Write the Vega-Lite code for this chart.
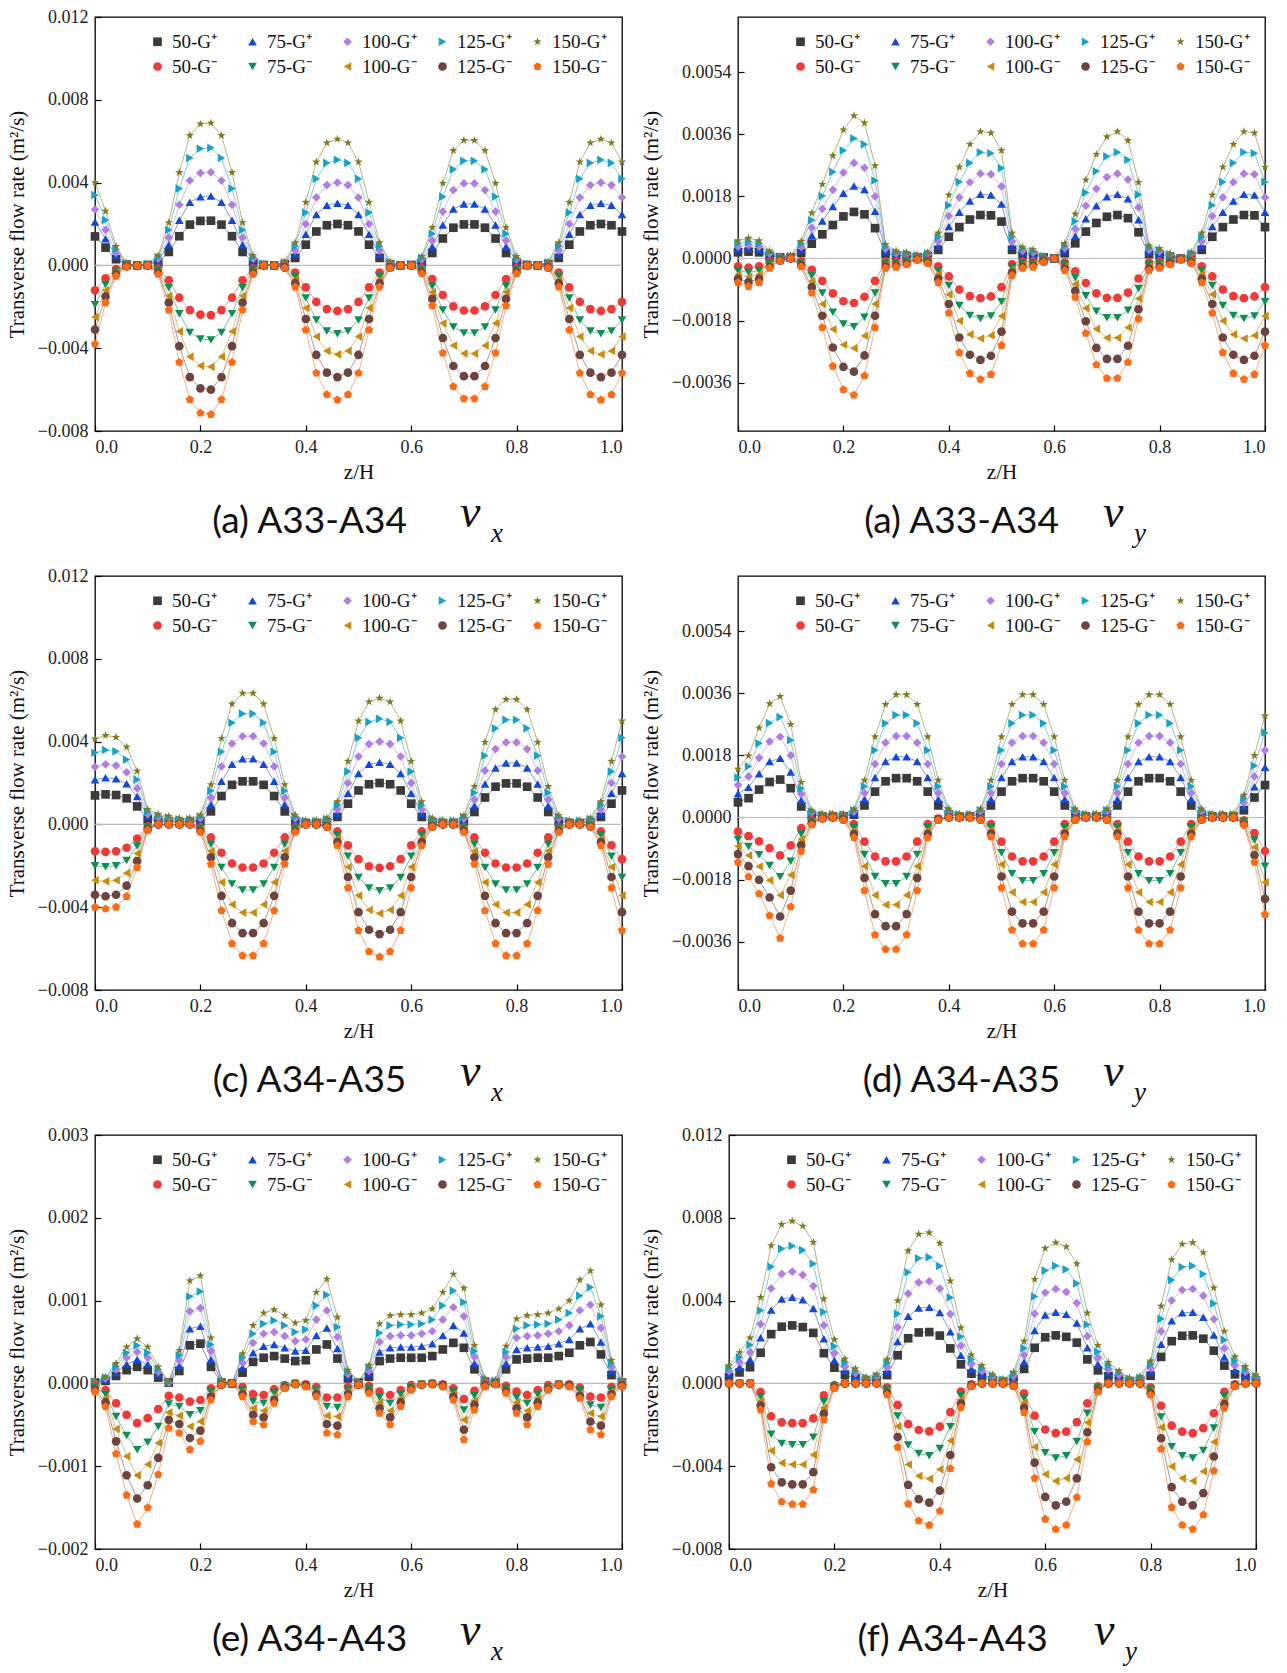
{
"$schema":"https://vega.github.io/schema/vega-lite/v6.json",
"padding":{"top":7,"left":5,"right":5,"bottom":5},
"config":{
"view":{"stroke":"#000","strokeWidth":1.3},
"axis":{"domain":false,"grid":false,"ticks":true,"tickColor":"#000","tickSize":-6,"tickWidth":1.2,"labelFont":"Liberation Serif","labelFontSize":18,"labelColor":"#222","labelPadding":13,"titleFont":"Liberation Serif","titleFontSize":21,"titleFontWeight":"normal","titleColor":"#111"},
"axisY":{"titlePadding":10},
"axisX":{"titlePadding":5},
"legend":{"orient":"top-right","offset":15,"columns":5,"direction":"horizontal","gridAlign":"all","labelFont":"Liberation Serif","labelFontSize":19,"labelColor":"#111","symbolSize":75,"symbolOffset":12,"labelOffset":5,"columnPadding":4,"rowPadding":5,"padding":0,"symbolStrokeWidth":0,"symbolOpacity":1},
"title":{"orient":"bottom","anchor":"middle","frame":"group","color":"#111","fontWeight":"normal"}
},
"datasets":{
"names":[{"k":"A","n":"50-G⁺"},{"k":"B","n":"75-G⁺"},{"k":"C","n":"100-G⁺"},{"k":"D","n":"125-G⁺"},{"k":"E","n":"150-G⁺"},{"k":"F","n":"50-G⁻"},{"k":"G","n":"75-G⁻"},{"k":"H","n":"100-G⁻"},{"k":"I","n":"125-G⁻"},{"k":"J","n":"150-G⁻"}],
"a":[
{"z":0,"A":0.0014,"B":0.0021,"C":0.0027,"D":0.0034,"E":0.004,"F":-0.0012,"G":-0.0019,"H":-0.0025,"I":-0.0031,"J":-0.0038},
{"z":0.02,"A":0.00086,"B":0.00129,"C":0.00172,"D":0.00219,"E":0.00262,"F":-0.00062,"G":-0.00092,"H":-0.0012,"I":-0.0015,"J":-0.0018},
{"z":0.04,"A":0.0003,"B":0.00045,"C":0.0006,"D":0.00077,"E":0.00092,"F":-0.00018,"G":-0.00026,"H":-0.00034,"I":-0.00043,"J":-0.00052},
{"z":0.06,"A":0.00004,"B":0.00006,"C":0.00008,"D":0.0001,"E":0.00012,"F":-0.00002,"G":-0.00003,"H":-0.00004,"I":-0.00005,"J":-0.00007},
{"z":0.08,"A":0,"B":0,"C":0,"D":0,"E":0,"F":0,"G":0,"H":0,"I":0,"J":0},
{"z":0.1,"A":0.00002,"B":0.00003,"C":0.00005,"D":0.00006,"E":0.00007,"F":0,"G":0,"H":0,"I":0,"J":0},
{"z":0.12,"A":0.00015,"B":0.00023,"C":0.00032,"D":0.0004,"E":0.00048,"F":-0.00014,"G":-0.00022,"H":-0.00029,"I":-0.00036,"J":-0.00043},
{"z":0.14,"A":0.00065,"B":0.001,"C":0.00135,"D":0.00171,"E":0.00207,"F":-0.00072,"G":-0.00108,"H":-0.00147,"I":-0.0018,"J":-0.00216},
{"z":0.16,"A":0.00141,"B":0.00218,"C":0.00293,"D":0.00371,"E":0.00449,"F":-0.00156,"G":-0.00234,"H":-0.00319,"I":-0.0039,"J":-0.00468},
{"z":0.18,"A":0.00197,"B":0.00305,"C":0.0041,"D":0.00519,"E":0.00628,"F":-0.00216,"G":-0.00324,"H":-0.00441,"I":-0.0054,"J":-0.00648},
{"z":0.2,"A":0.00215,"B":0.00332,"C":0.00446,"D":0.00564,"E":0.00683,"F":-0.00238,"G":-0.00356,"H":-0.00485,"I":-0.00594,"J":-0.00713},
{"z":0.22,"A":0.00216,"B":0.00335,"C":0.0045,"D":0.00568,"E":0.00688,"F":-0.0024,"G":-0.0036,"H":-0.0049,"I":-0.006,"J":-0.0072},
{"z":0.24,"A":0.00197,"B":0.00305,"C":0.0041,"D":0.00519,"E":0.00628,"F":-0.00216,"G":-0.00324,"H":-0.00441,"I":-0.0054,"J":-0.00648},
{"z":0.26,"A":0.00141,"B":0.00218,"C":0.00293,"D":0.00371,"E":0.00449,"F":-0.00156,"G":-0.00234,"H":-0.00319,"I":-0.0039,"J":-0.00468},
{"z":0.28,"A":0.00065,"B":0.001,"C":0.00135,"D":0.00171,"E":0.00207,"F":-0.00072,"G":-0.00108,"H":-0.00147,"I":-0.0018,"J":-0.00216},
{"z":0.3,"A":0.00015,"B":0.00023,"C":0.00032,"D":0.0004,"E":0.00048,"F":-0.00014,"G":-0.00022,"H":-0.00029,"I":-0.00036,"J":-0.00043},
{"z":0.32,"A":0.00002,"B":0.00003,"C":0.00005,"D":0.00006,"E":0.00007,"F":0,"G":0,"H":0,"I":0,"J":0},
{"z":0.34,"A":0,"B":0,"C":0,"D":0,"E":0,"F":0,"G":0,"H":0,"I":0,"J":0},
{"z":0.36,"A":0.00006,"B":0.00009,"C":0.00012,"D":0.00015,"E":0.00018,"F":-0.00004,"G":-0.00007,"H":-0.00009,"I":-0.00011,"J":-0.00013},
{"z":0.38,"A":0.00036,"B":0.00054,"C":0.00072,"D":0.00092,"E":0.0011,"F":-0.00035,"G":-0.00053,"H":-0.00069,"I":-0.00086,"J":-0.00104},
{"z":0.4,"A":0.001,"B":0.0015,"C":0.002,"D":0.00255,"E":0.00305,"F":-0.00106,"G":-0.00158,"H":-0.00206,"I":-0.00259,"J":-0.00312},
{"z":0.42,"A":0.00164,"B":0.00246,"C":0.00328,"D":0.00418,"E":0.005,"F":-0.00176,"G":-0.00264,"H":-0.00344,"I":-0.00432,"J":-0.0052},
{"z":0.44,"A":0.00194,"B":0.00291,"C":0.00388,"D":0.00495,"E":0.00592,"F":-0.00211,"G":-0.00317,"H":-0.00413,"I":-0.00518,"J":-0.00624},
{"z":0.46,"A":0.002,"B":0.003,"C":0.004,"D":0.0051,"E":0.0061,"F":-0.0022,"G":-0.0033,"H":-0.0043,"I":-0.0054,"J":-0.0065},
{"z":0.48,"A":0.00194,"B":0.00291,"C":0.00388,"D":0.00495,"E":0.00592,"F":-0.00211,"G":-0.00317,"H":-0.00413,"I":-0.00518,"J":-0.00624},
{"z":0.5,"A":0.00164,"B":0.00246,"C":0.00328,"D":0.00418,"E":0.005,"F":-0.00176,"G":-0.00264,"H":-0.00344,"I":-0.00432,"J":-0.0052},
{"z":0.52,"A":0.001,"B":0.0015,"C":0.002,"D":0.00255,"E":0.00305,"F":-0.00106,"G":-0.00158,"H":-0.00206,"I":-0.00259,"J":-0.00312},
{"z":0.54,"A":0.00036,"B":0.00054,"C":0.00072,"D":0.00092,"E":0.0011,"F":-0.00035,"G":-0.00053,"H":-0.00069,"I":-0.00086,"J":-0.00104},
{"z":0.56,"A":0.00006,"B":0.00009,"C":0.00012,"D":0.00015,"E":0.00018,"F":-0.00004,"G":-0.00007,"H":-0.00009,"I":-0.00011,"J":-0.00013},
{"z":0.58,"A":0,"B":0,"C":0,"D":0,"E":0,"F":0,"G":0,"H":0,"I":0,"J":0},
{"z":0.6,"A":0.00002,"B":0.00003,"C":0.00004,"D":0.00005,"E":0.00006,"F":0,"G":0,"H":0,"I":0,"J":0},
{"z":0.62,"A":0.00014,"B":0.00021,"C":0.00028,"D":0.00036,"E":0.00043,"F":-0.00013,"G":-0.0002,"H":-0.00026,"I":-0.00032,"J":-0.00039},
{"z":0.64,"A":0.0006,"B":0.0009,"C":0.0012,"D":0.00153,"E":0.00183,"F":-0.00066,"G":-0.00099,"H":-0.00129,"I":-0.00162,"J":-0.00195},
{"z":0.66,"A":0.0013,"B":0.00195,"C":0.0026,"D":0.00332,"E":0.00397,"F":-0.00143,"G":-0.00215,"H":-0.0028,"I":-0.00351,"J":-0.00423},
{"z":0.68,"A":0.00182,"B":0.00273,"C":0.00364,"D":0.00464,"E":0.00555,"F":-0.00198,"G":-0.00297,"H":-0.00387,"I":-0.00486,"J":-0.00585},
{"z":0.7,"A":0.00198,"B":0.00297,"C":0.00396,"D":0.00505,"E":0.00604,"F":-0.00218,"G":-0.00327,"H":-0.00426,"I":-0.00535,"J":-0.00644},
{"z":0.72,"A":0.00198,"B":0.00297,"C":0.00396,"D":0.00505,"E":0.00604,"F":-0.00218,"G":-0.00327,"H":-0.00426,"I":-0.00535,"J":-0.00644},
{"z":0.74,"A":0.00182,"B":0.00273,"C":0.00364,"D":0.00464,"E":0.00555,"F":-0.00198,"G":-0.00297,"H":-0.00387,"I":-0.00486,"J":-0.00585},
{"z":0.76,"A":0.0013,"B":0.00195,"C":0.0026,"D":0.00332,"E":0.00397,"F":-0.00143,"G":-0.00215,"H":-0.0028,"I":-0.00351,"J":-0.00423},
{"z":0.78,"A":0.0006,"B":0.0009,"C":0.0012,"D":0.00153,"E":0.00183,"F":-0.00066,"G":-0.00099,"H":-0.00129,"I":-0.00162,"J":-0.00195},
{"z":0.8,"A":0.00014,"B":0.00021,"C":0.00028,"D":0.00036,"E":0.00043,"F":-0.00013,"G":-0.0002,"H":-0.00026,"I":-0.00032,"J":-0.00039},
{"z":0.82,"A":0.00002,"B":0.00003,"C":0.00004,"D":0.00005,"E":0.00006,"F":0,"G":0,"H":0,"I":0,"J":0},
{"z":0.84,"A":0,"B":0,"C":0,"D":0,"E":0,"F":0,"G":0,"H":0,"I":0,"J":0},
{"z":0.86,"A":0.00006,"B":0.00009,"C":0.00012,"D":0.00015,"E":0.00018,"F":-0.00004,"G":-0.00007,"H":-0.00009,"I":-0.00011,"J":-0.00013},
{"z":0.88,"A":0.00036,"B":0.00054,"C":0.00072,"D":0.00092,"E":0.0011,"F":-0.00035,"G":-0.00053,"H":-0.00069,"I":-0.00086,"J":-0.00104},
{"z":0.9,"A":0.001,"B":0.0015,"C":0.002,"D":0.00255,"E":0.00305,"F":-0.00106,"G":-0.00158,"H":-0.00206,"I":-0.00259,"J":-0.00312},
{"z":0.92,"A":0.00164,"B":0.00246,"C":0.00328,"D":0.00418,"E":0.005,"F":-0.00176,"G":-0.00264,"H":-0.00344,"I":-0.00432,"J":-0.0052},
{"z":0.94,"A":0.00194,"B":0.00291,"C":0.00388,"D":0.00495,"E":0.00592,"F":-0.00211,"G":-0.00317,"H":-0.00413,"I":-0.00518,"J":-0.00624},
{"z":0.96,"A":0.002,"B":0.003,"C":0.004,"D":0.0051,"E":0.0061,"F":-0.0022,"G":-0.0033,"H":-0.0043,"I":-0.0054,"J":-0.0065},
{"z":0.98,"A":0.00194,"B":0.00291,"C":0.00388,"D":0.00495,"E":0.00592,"F":-0.00211,"G":-0.00317,"H":-0.00413,"I":-0.00518,"J":-0.00624},
{"z":1,"A":0.00164,"B":0.00246,"C":0.00328,"D":0.00418,"E":0.005,"F":-0.00176,"G":-0.00264,"H":-0.00344,"I":-0.00432,"J":-0.0052}
],
"b":[
{"z":0,"A":0.00018,"B":0.00026,"C":0.00034,"D":0.00043,"E":0.00052,"F":-0.00023,"G":-0.00035,"H":-0.00046,"I":-0.00059,"J":-0.0007},
{"z":0.02,"A":0.0002,"B":0.0003,"C":0.00039,"D":0.00049,"E":0.00059,"F":-0.00026,"G":-0.0004,"H":-0.00053,"I":-0.00068,"J":-0.00081},
{"z":0.04,"A":0.00018,"B":0.00026,"C":0.00034,"D":0.00043,"E":0.00052,"F":-0.00023,"G":-0.00035,"H":-0.00046,"I":-0.00059,"J":-0.0007},
{"z":0.06,"A":0.00008,"B":0.00011,"C":0.00015,"D":0.00018,"E":0.00022,"F":-0.00009,"G":-0.00014,"H":-0.00019,"I":-0.00024,"J":-0.00028},
{"z":0.08,"A":0.00003,"B":0.00004,"C":0.00005,"D":0.00006,"E":0.00007,"F":-0.00002,"G":-0.00003,"H":-0.00005,"I":-0.00006,"J":-0.00007},
{"z":0.1,"A":0.00003,"B":0.00004,"C":0.00006,"D":0.00007,"E":0.00008,"F":0,"G":0,"H":0,"I":0,"J":0},
{"z":0.12,"A":0.00016,"B":0.00025,"C":0.00033,"D":0.00042,"E":0.0005,"F":-0.00008,"G":-0.00012,"H":-0.00016,"I":-0.0002,"J":-0.00024},
{"z":0.14,"A":0.00043,"B":0.00067,"C":0.00089,"D":0.00111,"E":0.00132,"F":-0.00033,"G":-0.0005,"H":-0.00066,"I":-0.00083,"J":-0.001},
{"z":0.16,"A":0.0007,"B":0.00109,"C":0.00144,"D":0.00181,"E":0.00215,"F":-0.00065,"G":-0.001,"H":-0.00132,"I":-0.00166,"J":-0.002},
{"z":0.18,"A":0.00097,"B":0.00151,"C":0.00199,"D":0.00251,"E":0.00298,"F":-0.00101,"G":-0.00156,"H":-0.00205,"I":-0.00258,"J":-0.00312},
{"z":0.2,"A":0.00122,"B":0.00189,"C":0.00249,"D":0.00313,"E":0.00373,"F":-0.00124,"G":-0.0019,"H":-0.0025,"I":-0.00314,"J":-0.0038},
{"z":0.22,"A":0.00135,"B":0.0021,"C":0.00277,"D":0.00348,"E":0.00414,"F":-0.00129,"G":-0.00198,"H":-0.0026,"I":-0.00328,"J":-0.00396},
{"z":0.24,"A":0.00128,"B":0.002,"C":0.00263,"D":0.00331,"E":0.00393,"F":-0.00111,"G":-0.0017,"H":-0.00224,"I":-0.00281,"J":-0.0034},
{"z":0.26,"A":0.00088,"B":0.00137,"C":0.0018,"D":0.00226,"E":0.00269,"F":-0.00065,"G":-0.001,"H":-0.00132,"I":-0.00166,"J":-0.002},
{"z":0.28,"A":0.00014,"B":0.00021,"C":0.00028,"D":0.00035,"E":0.00041,"F":-0.00009,"G":-0.00014,"H":-0.00018,"I":-0.00023,"J":-0.00028},
{"z":0.3,"A":0.00008,"B":0.00011,"C":0.00015,"D":0.00018,"E":0.00022,"F":-0.00008,"G":-0.00012,"H":-0.00016,"I":-0.00021,"J":-0.00025},
{"z":0.32,"A":0.00006,"B":0.00009,"C":0.00012,"D":0.00015,"E":0.00018,"F":-0.00006,"G":-0.00009,"H":-0.00012,"I":-0.00015,"J":-0.00018},
{"z":0.34,"A":0.00004,"B":0.00006,"C":0.00007,"D":0.00009,"E":0.00011,"F":-0.00001,"G":-0.00002,"H":-0.00002,"I":-0.00003,"J":-0.00004},
{"z":0.36,"A":0.00006,"B":0.00009,"C":0.00012,"D":0.00015,"E":0.00018,"F":-0.00005,"G":-0.00007,"H":-0.00009,"I":-0.00012,"J":-0.00014},
{"z":0.38,"A":0.00025,"B":0.00037,"C":0.00049,"D":0.00062,"E":0.00074,"F":-0.00023,"G":-0.00035,"H":-0.00046,"I":-0.00059,"J":-0.0007},
{"z":0.4,"A":0.00063,"B":0.00093,"C":0.00123,"D":0.00154,"E":0.00184,"F":-0.00052,"G":-0.00078,"H":-0.00104,"I":-0.00132,"J":-0.00158},
{"z":0.42,"A":0.00091,"B":0.00134,"C":0.00177,"D":0.00222,"E":0.00265,"F":-0.0009,"G":-0.00136,"H":-0.00181,"I":-0.00229,"J":-0.00273},
{"z":0.44,"A":0.00113,"B":0.00167,"C":0.00221,"D":0.00277,"E":0.00331,"F":-0.00109,"G":-0.00165,"H":-0.0022,"I":-0.00279,"J":-0.00333},
{"z":0.46,"A":0.00126,"B":0.00186,"C":0.00246,"D":0.00308,"E":0.00368,"F":-0.00115,"G":-0.00174,"H":-0.00232,"I":-0.00294,"J":-0.0035},
{"z":0.48,"A":0.00125,"B":0.00184,"C":0.00244,"D":0.00305,"E":0.00364,"F":-0.0011,"G":-0.00167,"H":-0.00223,"I":-0.00282,"J":-0.00336},
{"z":0.5,"A":0.00107,"B":0.00158,"C":0.00209,"D":0.00262,"E":0.00313,"F":-0.00083,"G":-0.00125,"H":-0.00167,"I":-0.00212,"J":-0.00252},
{"z":0.52,"A":0.00025,"B":0.00037,"C":0.00049,"D":0.00062,"E":0.00074,"F":-0.00016,"G":-0.00024,"H":-0.00032,"I":-0.00041,"J":-0.00049},
{"z":0.54,"A":0.00011,"B":0.00017,"C":0.00022,"D":0.00028,"E":0.00033,"F":-0.00009,"G":-0.00014,"H":-0.00019,"I":-0.00024,"J":-0.00028},
{"z":0.56,"A":0.00009,"B":0.00013,"C":0.00017,"D":0.00022,"E":0.00026,"F":-0.00008,"G":-0.00012,"H":-0.00016,"I":-0.00021,"J":-0.00025},
{"z":0.58,"A":0.00003,"B":0.00004,"C":0.00005,"D":0.00006,"E":0.00007,"F":-0.00003,"G":-0.00005,"H":-0.00007,"I":-0.00009,"J":-0.00011},
{"z":0.6,"A":0,"B":0,"C":0,"D":0,"E":0,"F":0,"G":0,"H":0,"I":0,"J":0},
{"z":0.62,"A":0.00015,"B":0.00022,"C":0.0003,"D":0.00037,"E":0.00044,"F":-0.00012,"G":-0.00017,"H":-0.00023,"I":-0.00029,"J":-0.00035},
{"z":0.64,"A":0.00044,"B":0.00065,"C":0.00086,"D":0.00108,"E":0.00129,"F":-0.00037,"G":-0.00056,"H":-0.00074,"I":-0.00094,"J":-0.00112},
{"z":0.66,"A":0.00078,"B":0.00115,"C":0.00153,"D":0.00191,"E":0.00228,"F":-0.00071,"G":-0.00108,"H":-0.00144,"I":-0.00182,"J":-0.00217},
{"z":0.68,"A":0.00103,"B":0.00153,"C":0.00202,"D":0.00253,"E":0.00302,"F":-0.00101,"G":-0.00153,"H":-0.00204,"I":-0.00259,"J":-0.00308},
{"z":0.7,"A":0.00121,"B":0.00179,"C":0.00236,"D":0.00296,"E":0.00353,"F":-0.00114,"G":-0.00172,"H":-0.0023,"I":-0.00291,"J":-0.00347},
{"z":0.72,"A":0.00126,"B":0.00186,"C":0.00246,"D":0.00308,"E":0.00368,"F":-0.00114,"G":-0.00172,"H":-0.0023,"I":-0.00291,"J":-0.00347},
{"z":0.74,"A":0.00117,"B":0.00173,"C":0.00229,"D":0.00286,"E":0.00342,"F":-0.00099,"G":-0.0015,"H":-0.002,"I":-0.00253,"J":-0.00301},
{"z":0.76,"A":0.00076,"B":0.00112,"C":0.00148,"D":0.00185,"E":0.00221,"F":-0.00058,"G":-0.00087,"H":-0.00116,"I":-0.00147,"J":-0.00175},
{"z":0.78,"A":0.00013,"B":0.00019,"C":0.00025,"D":0.00031,"E":0.00037,"F":-0.00012,"G":-0.00017,"H":-0.00023,"I":-0.00029,"J":-0.00035},
{"z":0.8,"A":0.0001,"B":0.00015,"C":0.0002,"D":0.00025,"E":0.00029,"F":-0.00009,"G":-0.00014,"H":-0.00019,"I":-0.00024,"J":-0.00028},
{"z":0.82,"A":0.00005,"B":0.00007,"C":0.0001,"D":0.00012,"E":0.00015,"F":-0.00006,"G":-0.00009,"H":-0.00012,"I":-0.00015,"J":-0.00018},
{"z":0.84,"A":0,"B":0,"C":0,"D":0,"E":0,"F":-0.00001,"G":-0.00002,"H":-0.00002,"I":-0.00003,"J":-0.00004},
{"z":0.86,"A":0.00006,"B":0.00009,"C":0.00012,"D":0.00015,"E":0.00018,"F":-0.00005,"G":-0.00007,"H":-0.00009,"I":-0.00012,"J":-0.00014},
{"z":0.88,"A":0.00025,"B":0.00037,"C":0.00049,"D":0.00062,"E":0.00074,"F":-0.00023,"G":-0.00035,"H":-0.00046,"I":-0.00059,"J":-0.0007},
{"z":0.9,"A":0.00063,"B":0.00093,"C":0.00123,"D":0.00154,"E":0.00184,"F":-0.00052,"G":-0.00078,"H":-0.00104,"I":-0.00132,"J":-0.00158},
{"z":0.92,"A":0.00091,"B":0.00134,"C":0.00177,"D":0.00222,"E":0.00265,"F":-0.0009,"G":-0.00136,"H":-0.00181,"I":-0.00229,"J":-0.00273},
{"z":0.94,"A":0.00113,"B":0.00167,"C":0.00221,"D":0.00277,"E":0.00331,"F":-0.00109,"G":-0.00165,"H":-0.0022,"I":-0.00279,"J":-0.00333},
{"z":0.96,"A":0.00126,"B":0.00186,"C":0.00246,"D":0.00308,"E":0.00368,"F":-0.00115,"G":-0.00174,"H":-0.00232,"I":-0.00294,"J":-0.0035},
{"z":0.98,"A":0.00125,"B":0.00184,"C":0.00244,"D":0.00305,"E":0.00364,"F":-0.0011,"G":-0.00167,"H":-0.00223,"I":-0.00282,"J":-0.00336},
{"z":1,"A":0.00091,"B":0.00134,"C":0.00177,"D":0.00222,"E":0.00265,"F":-0.00083,"G":-0.00125,"H":-0.00167,"I":-0.00212,"J":-0.00252}
],
"c":[
{"z":0,"A":0.0014,"B":0.00216,"C":0.00278,"D":0.00346,"E":0.00413,"F":-0.0013,"G":-0.002,"H":-0.0027,"I":-0.0034,"J":-0.004},
{"z":0.02,"A":0.00145,"B":0.00225,"C":0.0029,"D":0.0036,"E":0.0043,"F":-0.00133,"G":-0.00204,"H":-0.00275,"I":-0.00347,"J":-0.00408},
{"z":0.04,"A":0.00142,"B":0.0022,"C":0.00284,"D":0.00353,"E":0.00421,"F":-0.0013,"G":-0.002,"H":-0.0027,"I":-0.0034,"J":-0.004},
{"z":0.06,"A":0.00126,"B":0.00196,"C":0.00252,"D":0.00313,"E":0.00374,"F":-0.00113,"G":-0.00174,"H":-0.00235,"I":-0.00296,"J":-0.00348},
{"z":0.08,"A":0.00087,"B":0.00135,"C":0.00174,"D":0.00216,"E":0.00258,"F":-0.00068,"G":-0.00104,"H":-0.0014,"I":-0.00177,"J":-0.00208},
{"z":0.1,"A":0.00025,"B":0.00038,"C":0.00049,"D":0.00061,"E":0.00073,"F":-0.00009,"G":-0.00014,"H":-0.00019,"I":-0.00024,"J":-0.00028},
{"z":0.12,"A":0.00017,"B":0.00025,"C":0.00033,"D":0.00042,"E":0.0005,"F":0,"G":0,"H":0,"I":0,"J":0},
{"z":0.14,"A":0.00013,"B":0.0002,"C":0.00027,"D":0.00033,"E":0.0004,"F":0,"G":0,"H":0,"I":0,"J":0},
{"z":0.16,"A":0.0001,"B":0.00015,"C":0.0002,"D":0.00025,"E":0.0003,"F":0,"G":0,"H":0,"I":0,"J":0},
{"z":0.18,"A":0.0001,"B":0.00015,"C":0.0002,"D":0.00025,"E":0.0003,"F":0,"G":0,"H":0,"I":0,"J":0},
{"z":0.2,"A":0.00015,"B":0.00022,"C":0.0003,"D":0.00038,"E":0.00045,"F":-0.00013,"G":-0.00019,"H":-0.00026,"I":-0.00032,"J":-0.00038},
{"z":0.22,"A":0.00063,"B":0.00096,"C":0.00129,"D":0.00162,"E":0.00192,"F":-0.00063,"G":-0.00096,"H":-0.00129,"I":-0.00159,"J":-0.00192},
{"z":0.24,"A":0.00137,"B":0.00208,"C":0.0028,"D":0.00351,"E":0.00416,"F":-0.00137,"G":-0.00208,"H":-0.0028,"I":-0.00345,"J":-0.00416},
{"z":0.26,"A":0.00191,"B":0.00291,"C":0.00391,"D":0.00491,"E":0.00582,"F":-0.00189,"G":-0.00288,"H":-0.00387,"I":-0.00477,"J":-0.00576},
{"z":0.28,"A":0.00208,"B":0.00317,"C":0.00426,"D":0.00535,"E":0.00634,"F":-0.00208,"G":-0.00317,"H":-0.00426,"I":-0.00525,"J":-0.00634},
{"z":0.3,"A":0.00208,"B":0.00317,"C":0.00426,"D":0.00535,"E":0.00634,"F":-0.00208,"G":-0.00317,"H":-0.00426,"I":-0.00525,"J":-0.00634},
{"z":0.32,"A":0.00191,"B":0.00291,"C":0.00391,"D":0.00491,"E":0.00582,"F":-0.00189,"G":-0.00288,"H":-0.00387,"I":-0.00477,"J":-0.00576},
{"z":0.34,"A":0.00137,"B":0.00208,"C":0.0028,"D":0.00351,"E":0.00416,"F":-0.00137,"G":-0.00208,"H":-0.0028,"I":-0.00345,"J":-0.00416},
{"z":0.36,"A":0.00063,"B":0.00096,"C":0.00129,"D":0.00162,"E":0.00192,"F":-0.00063,"G":-0.00096,"H":-0.00129,"I":-0.00159,"J":-0.00192},
{"z":0.38,"A":0.00015,"B":0.00022,"C":0.0003,"D":0.00038,"E":0.00045,"F":-0.00013,"G":-0.00019,"H":-0.00026,"I":-0.00032,"J":-0.00038},
{"z":0.4,"A":0.00007,"B":0.0001,"C":0.00013,"D":0.00017,"E":0.0002,"F":0,"G":0,"H":0,"I":0,"J":0},
{"z":0.42,"A":0.00007,"B":0.0001,"C":0.00013,"D":0.00017,"E":0.0002,"F":0,"G":0,"H":0,"I":0,"J":0},
{"z":0.44,"A":0.0001,"B":0.00015,"C":0.0002,"D":0.00026,"E":0.00031,"F":-0.00004,"G":-0.00006,"H":-0.00009,"I":-0.00011,"J":-0.00013},
{"z":0.46,"A":0.00036,"B":0.00054,"C":0.00072,"D":0.00092,"E":0.0011,"F":-0.00034,"G":-0.00051,"H":-0.00069,"I":-0.00085,"J":-0.00102},
{"z":0.48,"A":0.001,"B":0.0015,"C":0.002,"D":0.00255,"E":0.00305,"F":-0.00101,"G":-0.00154,"H":-0.00206,"I":-0.00254,"J":-0.00307},
{"z":0.5,"A":0.00164,"B":0.00246,"C":0.00328,"D":0.00418,"E":0.005,"F":-0.00168,"G":-0.00256,"H":-0.00344,"I":-0.00424,"J":-0.00512},
{"z":0.52,"A":0.00194,"B":0.00291,"C":0.00388,"D":0.00495,"E":0.00592,"F":-0.00202,"G":-0.00307,"H":-0.00413,"I":-0.00509,"J":-0.00614},
{"z":0.54,"A":0.002,"B":0.003,"C":0.004,"D":0.0051,"E":0.0061,"F":-0.0021,"G":-0.0032,"H":-0.0043,"I":-0.0053,"J":-0.0064},
{"z":0.56,"A":0.00194,"B":0.00291,"C":0.00388,"D":0.00495,"E":0.00592,"F":-0.00202,"G":-0.00307,"H":-0.00413,"I":-0.00509,"J":-0.00614},
{"z":0.58,"A":0.00164,"B":0.00246,"C":0.00328,"D":0.00418,"E":0.005,"F":-0.00168,"G":-0.00256,"H":-0.00344,"I":-0.00424,"J":-0.00512},
{"z":0.6,"A":0.001,"B":0.0015,"C":0.002,"D":0.00255,"E":0.00305,"F":-0.00101,"G":-0.00154,"H":-0.00206,"I":-0.00254,"J":-0.00307},
{"z":0.62,"A":0.00036,"B":0.00054,"C":0.00072,"D":0.00092,"E":0.0011,"F":-0.00034,"G":-0.00051,"H":-0.00069,"I":-0.00085,"J":-0.00102},
{"z":0.64,"A":0.0001,"B":0.00015,"C":0.0002,"D":0.00026,"E":0.00031,"F":-0.00004,"G":-0.00006,"H":-0.00009,"I":-0.00011,"J":-0.00013},
{"z":0.66,"A":0.00007,"B":0.0001,"C":0.00013,"D":0.00017,"E":0.0002,"F":0,"G":0,"H":0,"I":0,"J":0},
{"z":0.68,"A":0.00007,"B":0.0001,"C":0.00013,"D":0.00017,"E":0.0002,"F":0,"G":0,"H":0,"I":0,"J":0},
{"z":0.7,"A":0.00014,"B":0.00021,"C":0.00028,"D":0.00036,"E":0.00043,"F":-0.00013,"G":-0.00019,"H":-0.00026,"I":-0.00032,"J":-0.00038},
{"z":0.72,"A":0.0006,"B":0.0009,"C":0.0012,"D":0.00153,"E":0.00183,"F":-0.00063,"G":-0.00096,"H":-0.00129,"I":-0.00159,"J":-0.00192},
{"z":0.74,"A":0.0013,"B":0.00195,"C":0.0026,"D":0.00332,"E":0.00397,"F":-0.00137,"G":-0.00208,"H":-0.0028,"I":-0.00345,"J":-0.00416},
{"z":0.76,"A":0.00182,"B":0.00273,"C":0.00364,"D":0.00464,"E":0.00555,"F":-0.00189,"G":-0.00288,"H":-0.00387,"I":-0.00477,"J":-0.00576},
{"z":0.78,"A":0.00198,"B":0.00297,"C":0.00396,"D":0.00505,"E":0.00604,"F":-0.00208,"G":-0.00317,"H":-0.00426,"I":-0.00525,"J":-0.00634},
{"z":0.8,"A":0.00198,"B":0.00297,"C":0.00396,"D":0.00505,"E":0.00604,"F":-0.00208,"G":-0.00317,"H":-0.00426,"I":-0.00525,"J":-0.00634},
{"z":0.82,"A":0.00182,"B":0.00273,"C":0.00364,"D":0.00464,"E":0.00555,"F":-0.00189,"G":-0.00288,"H":-0.00387,"I":-0.00477,"J":-0.00576},
{"z":0.84,"A":0.0013,"B":0.00195,"C":0.0026,"D":0.00332,"E":0.00397,"F":-0.00137,"G":-0.00208,"H":-0.0028,"I":-0.00345,"J":-0.00416},
{"z":0.86,"A":0.0006,"B":0.0009,"C":0.0012,"D":0.00153,"E":0.00183,"F":-0.00063,"G":-0.00096,"H":-0.00129,"I":-0.00159,"J":-0.00192},
{"z":0.88,"A":0.00014,"B":0.00021,"C":0.00028,"D":0.00036,"E":0.00043,"F":-0.00013,"G":-0.00019,"H":-0.00026,"I":-0.00032,"J":-0.00038},
{"z":0.9,"A":0.00007,"B":0.0001,"C":0.00013,"D":0.00017,"E":0.0002,"F":0,"G":0,"H":0,"I":0,"J":0},
{"z":0.92,"A":0.00007,"B":0.0001,"C":0.00013,"D":0.00017,"E":0.0002,"F":0,"G":0,"H":0,"I":0,"J":0},
{"z":0.94,"A":0.0001,"B":0.00015,"C":0.0002,"D":0.00026,"E":0.00031,"F":-0.00004,"G":-0.00006,"H":-0.00009,"I":-0.00011,"J":-0.00013},
{"z":0.96,"A":0.00036,"B":0.00054,"C":0.00072,"D":0.00092,"E":0.0011,"F":-0.00034,"G":-0.00051,"H":-0.00069,"I":-0.00085,"J":-0.00102},
{"z":0.98,"A":0.001,"B":0.0015,"C":0.002,"D":0.00255,"E":0.00305,"F":-0.00101,"G":-0.00154,"H":-0.00206,"I":-0.00254,"J":-0.00307},
{"z":1,"A":0.00164,"B":0.00246,"C":0.00328,"D":0.00418,"E":0.005,"F":-0.00168,"G":-0.00256,"H":-0.00344,"I":-0.00424,"J":-0.00512}
],
"d":[
{"z":0,"A":0.00044,"B":0.00069,"C":0.00094,"D":0.00116,"E":0.0014,"F":-0.00041,"G":-0.00064,"H":-0.00083,"I":-0.00106,"J":-0.0013},
{"z":0.02,"A":0.00056,"B":0.00088,"C":0.00119,"D":0.00148,"E":0.00179,"F":-0.00054,"G":-0.00084,"H":-0.0011,"I":-0.00141,"J":-0.00172},
{"z":0.04,"A":0.00081,"B":0.00127,"C":0.00173,"D":0.00215,"E":0.0026,"F":-0.00069,"G":-0.00108,"H":-0.00142,"I":-0.00181,"J":-0.00221},
{"z":0.06,"A":0.00103,"B":0.00162,"C":0.0022,"D":0.00274,"E":0.0033,"F":-0.00089,"G":-0.00139,"H":-0.00182,"I":-0.00232,"J":-0.00284},
{"z":0.08,"A":0.0011,"B":0.00172,"C":0.00234,"D":0.00291,"E":0.00351,"F":-0.0011,"G":-0.00172,"H":-0.00225,"I":-0.00287,"J":-0.0035},
{"z":0.1,"A":0.00085,"B":0.00132,"C":0.0018,"D":0.00224,"E":0.0027,"F":-0.00081,"G":-0.00127,"H":-0.00167,"I":-0.00212,"J":-0.00259},
{"z":0.12,"A":0.00032,"B":0.0005,"C":0.00068,"D":0.00084,"E":0.00102,"F":-0.00031,"G":-0.00048,"H":-0.00063,"I":-0.0008,"J":-0.00098},
{"z":0.14,"A":0.00007,"B":0.0001,"C":0.00014,"D":0.00017,"E":0.00021,"F":-0.00007,"G":-0.0001,"H":-0.00014,"I":-0.00017,"J":-0.00021},
{"z":0.16,"A":0.00003,"B":0.00005,"C":0.00007,"D":0.00009,"E":0.00011,"F":-0.00001,"G":-0.00002,"H":-0.00002,"I":-0.00003,"J":-0.00004},
{"z":0.18,"A":0.00003,"B":0.00005,"C":0.00007,"D":0.00009,"E":0.00011,"F":0,"G":0,"H":0,"I":0,"J":0},
{"z":0.2,"A":0.00003,"B":0.00005,"C":0.00007,"D":0.00009,"E":0.00011,"F":-0.00003,"G":-0.00004,"H":-0.00005,"I":-0.00006,"J":-0.00008},
{"z":0.22,"A":0.00008,"B":0.00012,"C":0.00017,"D":0.00021,"E":0.00025,"F":-0.00019,"G":-0.00029,"H":-0.00038,"I":-0.00048,"J":-0.00058},
{"z":0.24,"A":0.00035,"B":0.00053,"C":0.00071,"D":0.0009,"E":0.00108,"F":-0.0007,"G":-0.00107,"H":-0.00141,"I":-0.00175,"J":-0.00212},
{"z":0.26,"A":0.00075,"B":0.00116,"C":0.00155,"D":0.00195,"E":0.00234,"F":-0.00113,"G":-0.00171,"H":-0.00225,"I":-0.0028,"J":-0.0034},
{"z":0.28,"A":0.00105,"B":0.00162,"C":0.00217,"D":0.00273,"E":0.00328,"F":-0.00127,"G":-0.00192,"H":-0.00253,"I":-0.00315,"J":-0.00382},
{"z":0.3,"A":0.00114,"B":0.00176,"C":0.00236,"D":0.00297,"E":0.00356,"F":-0.00127,"G":-0.00192,"H":-0.00253,"I":-0.00315,"J":-0.00382},
{"z":0.32,"A":0.00114,"B":0.00176,"C":0.00236,"D":0.00297,"E":0.00356,"F":-0.00113,"G":-0.00171,"H":-0.00225,"I":-0.0028,"J":-0.0034},
{"z":0.34,"A":0.00105,"B":0.00162,"C":0.00217,"D":0.00273,"E":0.00328,"F":-0.0007,"G":-0.00107,"H":-0.00141,"I":-0.00175,"J":-0.00212},
{"z":0.36,"A":0.00075,"B":0.00116,"C":0.00155,"D":0.00195,"E":0.00234,"F":-0.00019,"G":-0.00029,"H":-0.00038,"I":-0.00048,"J":-0.00058},
{"z":0.38,"A":0.00035,"B":0.00053,"C":0.00071,"D":0.0009,"E":0.00108,"F":-0.00003,"G":-0.00004,"H":-0.00005,"I":-0.00006,"J":-0.00008},
{"z":0.4,"A":0.00008,"B":0.00012,"C":0.00017,"D":0.00021,"E":0.00025,"F":0,"G":0,"H":0,"I":0,"J":0},
{"z":0.42,"A":0.00003,"B":0.00005,"C":0.00007,"D":0.00009,"E":0.00011,"F":0,"G":0,"H":0,"I":0,"J":0},
{"z":0.44,"A":0.00003,"B":0.00005,"C":0.00007,"D":0.00009,"E":0.00011,"F":0,"G":0,"H":0,"I":0,"J":0},
{"z":0.46,"A":0.00008,"B":0.00012,"C":0.00017,"D":0.00021,"E":0.00025,"F":-0.00003,"G":-0.00004,"H":-0.00005,"I":-0.00006,"J":-0.00007},
{"z":0.48,"A":0.00035,"B":0.00053,"C":0.00071,"D":0.0009,"E":0.00108,"F":-0.00019,"G":-0.00028,"H":-0.00037,"I":-0.00047,"J":-0.00056},
{"z":0.5,"A":0.00075,"B":0.00116,"C":0.00155,"D":0.00195,"E":0.00234,"F":-0.0007,"G":-0.00102,"H":-0.00136,"I":-0.00171,"J":-0.00204},
{"z":0.52,"A":0.00105,"B":0.00162,"C":0.00217,"D":0.00273,"E":0.00328,"F":-0.00113,"G":-0.00163,"H":-0.00217,"I":-0.00273,"J":-0.00326},
{"z":0.54,"A":0.00114,"B":0.00176,"C":0.00236,"D":0.00297,"E":0.00356,"F":-0.00127,"G":-0.00183,"H":-0.00245,"I":-0.00307,"J":-0.00366},
{"z":0.56,"A":0.00114,"B":0.00176,"C":0.00236,"D":0.00297,"E":0.00356,"F":-0.00127,"G":-0.00183,"H":-0.00245,"I":-0.00307,"J":-0.00366},
{"z":0.58,"A":0.00105,"B":0.00162,"C":0.00217,"D":0.00273,"E":0.00328,"F":-0.00113,"G":-0.00163,"H":-0.00217,"I":-0.00273,"J":-0.00326},
{"z":0.6,"A":0.00075,"B":0.00116,"C":0.00155,"D":0.00195,"E":0.00234,"F":-0.0007,"G":-0.00102,"H":-0.00136,"I":-0.00171,"J":-0.00204},
{"z":0.62,"A":0.00035,"B":0.00053,"C":0.00071,"D":0.0009,"E":0.00108,"F":-0.00019,"G":-0.00028,"H":-0.00037,"I":-0.00047,"J":-0.00056},
{"z":0.64,"A":0.00008,"B":0.00012,"C":0.00017,"D":0.00021,"E":0.00025,"F":-0.00003,"G":-0.00004,"H":-0.00005,"I":-0.00006,"J":-0.00007},
{"z":0.66,"A":0.00003,"B":0.00005,"C":0.00007,"D":0.00009,"E":0.00011,"F":0,"G":0,"H":0,"I":0,"J":0},
{"z":0.68,"A":0.00003,"B":0.00005,"C":0.00007,"D":0.00009,"E":0.00011,"F":0,"G":0,"H":0,"I":0,"J":0},
{"z":0.7,"A":0.00008,"B":0.00012,"C":0.00017,"D":0.00021,"E":0.00025,"F":-0.00003,"G":-0.00004,"H":-0.00005,"I":-0.00006,"J":-0.00007},
{"z":0.72,"A":0.00035,"B":0.00053,"C":0.00071,"D":0.0009,"E":0.00108,"F":-0.00019,"G":-0.00028,"H":-0.00037,"I":-0.00047,"J":-0.00056},
{"z":0.74,"A":0.00075,"B":0.00116,"C":0.00155,"D":0.00195,"E":0.00234,"F":-0.0007,"G":-0.00102,"H":-0.00136,"I":-0.00171,"J":-0.00204},
{"z":0.76,"A":0.00105,"B":0.00162,"C":0.00217,"D":0.00273,"E":0.00328,"F":-0.00113,"G":-0.00163,"H":-0.00217,"I":-0.00273,"J":-0.00326},
{"z":0.78,"A":0.00114,"B":0.00176,"C":0.00236,"D":0.00297,"E":0.00356,"F":-0.00127,"G":-0.00183,"H":-0.00245,"I":-0.00307,"J":-0.00366},
{"z":0.8,"A":0.00114,"B":0.00176,"C":0.00236,"D":0.00297,"E":0.00356,"F":-0.00127,"G":-0.00183,"H":-0.00245,"I":-0.00307,"J":-0.00366},
{"z":0.82,"A":0.00105,"B":0.00162,"C":0.00217,"D":0.00273,"E":0.00328,"F":-0.00113,"G":-0.00163,"H":-0.00217,"I":-0.00273,"J":-0.00326},
{"z":0.84,"A":0.00075,"B":0.00116,"C":0.00155,"D":0.00195,"E":0.00234,"F":-0.0007,"G":-0.00102,"H":-0.00136,"I":-0.00171,"J":-0.00204},
{"z":0.86,"A":0.00035,"B":0.00053,"C":0.00071,"D":0.0009,"E":0.00108,"F":-0.00019,"G":-0.00028,"H":-0.00037,"I":-0.00047,"J":-0.00056},
{"z":0.88,"A":0.00008,"B":0.00012,"C":0.00017,"D":0.00021,"E":0.00025,"F":-0.00003,"G":-0.00004,"H":-0.00005,"I":-0.00006,"J":-0.00007},
{"z":0.9,"A":0.00003,"B":0.00005,"C":0.00007,"D":0.00009,"E":0.00011,"F":0,"G":0,"H":0,"I":0,"J":0},
{"z":0.92,"A":0.00003,"B":0.00005,"C":0.00007,"D":0.00009,"E":0.00011,"F":0,"G":0,"H":0,"I":0,"J":0},
{"z":0.94,"A":0.00003,"B":0.00005,"C":0.00007,"D":0.00009,"E":0.00011,"F":0,"G":0,"H":0,"I":0,"J":0},
{"z":0.96,"A":0.00021,"B":0.00032,"C":0.00043,"D":0.00054,"E":0.00065,"F":-0.00008,"G":-0.00011,"H":-0.00015,"I":-0.00019,"J":-0.00022},
{"z":0.98,"A":0.00058,"B":0.00089,"C":0.00119,"D":0.0015,"E":0.0018,"F":-0.00045,"G":-0.00065,"H":-0.00086,"I":-0.00109,"J":-0.0013},
{"z":1,"A":0.00094,"B":0.00146,"C":0.00195,"D":0.00246,"E":0.00295,"F":-0.00097,"G":-0.00141,"H":-0.00188,"I":-0.00236,"J":-0.00281}
],
"e":[
{"z":0,"A":0.00001,"B":0.00001,"C":0.00001,"D":0.00002,"E":0.00002,"F":-0.00003,"G":-0.00005,"H":-0.00007,"I":-0.00008,"J":-0.0001},
{"z":0.02,"A":0.00003,"B":0.00004,"C":0.00006,"D":0.00007,"E":0.00008,"F":-0.00008,"G":-0.00013,"H":-0.00018,"I":-0.00023,"J":-0.00028},
{"z":0.04,"A":0.00009,"B":0.00013,"C":0.00017,"D":0.0002,"E":0.00024,"F":-0.00024,"G":-0.0004,"H":-0.00055,"I":-0.0007,"J":-0.00085},
{"z":0.06,"A":0.00016,"B":0.00023,"C":0.00031,"D":0.00037,"E":0.00044,"F":-0.00038,"G":-0.00063,"H":-0.00088,"I":-0.00111,"J":-0.00135},
{"z":0.08,"A":0.0002,"B":0.00029,"C":0.00038,"D":0.00046,"E":0.00054,"F":-0.00048,"G":-0.0008,"H":-0.00111,"I":-0.00139,"J":-0.0017},
{"z":0.1,"A":0.00016,"B":0.00023,"C":0.00031,"D":0.00037,"E":0.00044,"F":-0.00042,"G":-0.00071,"H":-0.00098,"I":-0.00123,"J":-0.0015},
{"z":0.12,"A":0.00007,"B":0.00011,"C":0.00014,"D":0.00017,"E":0.0002,"F":-0.00031,"G":-0.00052,"H":-0.00072,"I":-0.0009,"J":-0.0011},
{"z":0.14,"A":0.00001,"B":0.00001,"C":0.00001,"D":0.00002,"E":0.00002,"F":-0.00015,"G":-0.00025,"H":-0.00035,"I":-0.00044,"J":-0.00054},
{"z":0.16,"A":0.00015,"B":0.00021,"C":0.00028,"D":0.00034,"E":0.0004,"F":-0.00017,"G":-0.00028,"H":-0.00039,"I":-0.00049,"J":-0.0006},
{"z":0.18,"A":0.00046,"B":0.00066,"C":0.00087,"D":0.00105,"E":0.00124,"F":-0.00022,"G":-0.00038,"H":-0.00052,"I":-0.00066,"J":-0.0008},
{"z":0.2,"A":0.00048,"B":0.00069,"C":0.00091,"D":0.00111,"E":0.0013,"F":-0.0002,"G":-0.00033,"H":-0.00046,"I":-0.00057,"J":-0.0007},
{"z":0.22,"A":0.0002,"B":0.00029,"C":0.00039,"D":0.00047,"E":0.00055,"F":-0.00006,"G":-0.00009,"H":-0.00013,"I":-0.00016,"J":-0.0002},
{"z":0.24,"A":0.00001,"B":0.00002,"C":0.00003,"D":0.00003,"E":0.00004,"F":-0.00001,"G":-0.00001,"H":-0.00001,"I":-0.00002,"J":-0.00002},
{"z":0.26,"A":0,"B":0,"C":0,"D":0,"E":0,"F":0,"G":0,"H":0,"I":0,"J":0},
{"z":0.28,"A":0.00013,"B":0.00019,"C":0.00025,"D":0.00031,"E":0.00036,"F":-0.00004,"G":-0.00008,"H":-0.0001,"I":-0.00013,"J":-0.00016},
{"z":0.3,"A":0.00026,"B":0.00037,"C":0.00049,"D":0.0006,"E":0.0007,"F":-0.00013,"G":-0.00022,"H":-0.0003,"I":-0.00038,"J":-0.00046},
{"z":0.32,"A":0.00031,"B":0.00045,"C":0.0006,"D":0.00072,"E":0.00085,"F":-0.00014,"G":-0.00024,"H":-0.00033,"I":-0.00041,"J":-0.0005},
{"z":0.34,"A":0.00033,"B":0.00047,"C":0.00062,"D":0.00076,"E":0.00089,"F":-0.00007,"G":-0.00011,"H":-0.00016,"I":-0.0002,"J":-0.00024},
{"z":0.36,"A":0.0003,"B":0.00043,"C":0.00057,"D":0.0007,"E":0.00082,"F":-0.00002,"G":-0.00003,"H":-0.00004,"I":-0.00005,"J":-0.00006},
{"z":0.38,"A":0.00027,"B":0.00039,"C":0.00051,"D":0.00062,"E":0.00073,"F":0,"G":0,"H":-0.00001,"I":-0.00001,"J":-0.00001},
{"z":0.4,"A":0.00028,"B":0.0004,"C":0.00053,"D":0.00065,"E":0.00076,"F":-0.00001,"G":-0.00002,"H":-0.00003,"I":-0.00003,"J":-0.00004},
{"z":0.42,"A":0.00041,"B":0.00058,"C":0.00077,"D":0.00094,"E":0.0011,"F":-0.00004,"G":-0.00008,"H":-0.0001,"I":-0.00013,"J":-0.00016},
{"z":0.44,"A":0.00047,"B":0.00067,"C":0.00088,"D":0.00107,"E":0.00126,"F":-0.00017,"G":-0.00028,"H":-0.00039,"I":-0.00049,"J":-0.0006},
{"z":0.46,"A":0.0003,"B":0.00042,"C":0.00056,"D":0.00068,"E":0.0008,"F":-0.00017,"G":-0.00029,"H":-0.0004,"I":-0.00051,"J":-0.00062},
{"z":0.48,"A":0.00006,"B":0.00008,"C":0.00011,"D":0.00014,"E":0.00016,"F":-0.00004,"G":-0.00008,"H":-0.0001,"I":-0.00013,"J":-0.00016},
{"z":0.5,"A":0.00001,"B":0.00001,"C":0.00001,"D":0.00002,"E":0.00002,"F":-0.00001,"G":-0.00001,"H":-0.00001,"I":-0.00002,"J":-0.00002},
{"z":0.52,"A":0.00008,"B":0.00012,"C":0.00015,"D":0.00019,"E":0.00022,"F":-0.00003,"G":-0.00006,"H":-0.00008,"I":-0.0001,"J":-0.00012},
{"z":0.54,"A":0.00027,"B":0.00038,"C":0.0005,"D":0.00061,"E":0.00072,"F":-0.0001,"G":-0.00017,"H":-0.00023,"I":-0.0003,"J":-0.00036},
{"z":0.56,"A":0.0003,"B":0.00043,"C":0.00057,"D":0.0007,"E":0.00082,"F":-0.00014,"G":-0.00024,"H":-0.00033,"I":-0.00041,"J":-0.0005},
{"z":0.58,"A":0.00031,"B":0.00044,"C":0.00058,"D":0.00071,"E":0.00083,"F":-0.00008,"G":-0.00013,"H":-0.00018,"I":-0.00023,"J":-0.00028},
{"z":0.6,"A":0.00031,"B":0.00044,"C":0.00058,"D":0.00071,"E":0.00083,"F":-0.00002,"G":-0.00004,"H":-0.00005,"I":-0.00007,"J":-0.00008},
{"z":0.62,"A":0.00031,"B":0.00045,"C":0.0006,"D":0.00072,"E":0.00085,"F":-0.00001,"G":-0.00001,"H":-0.00001,"I":-0.00002,"J":-0.00002},
{"z":0.64,"A":0.00033,"B":0.00048,"C":0.00063,"D":0.00077,"E":0.0009,"F":0,"G":0,"H":-0.00001,"I":-0.00001,"J":-0.00001},
{"z":0.66,"A":0.00041,"B":0.00058,"C":0.00077,"D":0.00094,"E":0.0011,"F":-0.00001,"G":-0.00002,"H":-0.00003,"I":-0.00003,"J":-0.00004},
{"z":0.68,"A":0.00049,"B":0.0007,"C":0.00092,"D":0.00112,"E":0.00132,"F":-0.00006,"G":-0.00009,"H":-0.00013,"I":-0.00016,"J":-0.0002},
{"z":0.7,"A":0.00043,"B":0.00061,"C":0.00081,"D":0.00098,"E":0.00115,"F":-0.00019,"G":-0.00032,"H":-0.00044,"I":-0.00056,"J":-0.00068},
{"z":0.72,"A":0.00017,"B":0.00024,"C":0.00032,"D":0.00039,"E":0.00046,"F":-0.00009,"G":-0.00015,"H":-0.00021,"I":-0.00026,"J":-0.00032},
{"z":0.74,"A":0.00002,"B":0.00003,"C":0.00004,"D":0.00005,"E":0.00006,"F":-0.00001,"G":-0.00002,"H":-0.00003,"I":-0.00003,"J":-0.00004},
{"z":0.76,"A":0.00001,"B":0.00002,"C":0.00003,"D":0.00003,"E":0.00004,"F":0,"G":0,"H":-0.00001,"I":-0.00001,"J":-0.00001},
{"z":0.78,"A":0.00017,"B":0.00024,"C":0.00032,"D":0.00038,"E":0.00045,"F":-0.00003,"G":-0.00006,"H":-0.00008,"I":-0.0001,"J":-0.00012},
{"z":0.8,"A":0.00029,"B":0.00041,"C":0.00055,"D":0.00066,"E":0.00078,"F":-0.0001,"G":-0.00017,"H":-0.00023,"I":-0.0003,"J":-0.00036},
{"z":0.82,"A":0.0003,"B":0.00043,"C":0.00057,"D":0.0007,"E":0.00082,"F":-0.00014,"G":-0.00024,"H":-0.00033,"I":-0.00041,"J":-0.0005},
{"z":0.84,"A":0.00031,"B":0.00044,"C":0.00058,"D":0.00071,"E":0.00083,"F":-0.00008,"G":-0.00013,"H":-0.00018,"I":-0.00023,"J":-0.00028},
{"z":0.86,"A":0.00031,"B":0.00045,"C":0.0006,"D":0.00072,"E":0.00085,"F":-0.00002,"G":-0.00004,"H":-0.00005,"I":-0.00007,"J":-0.00008},
{"z":0.88,"A":0.00033,"B":0.00048,"C":0.00063,"D":0.00077,"E":0.0009,"F":-0.00001,"G":-0.00001,"H":-0.00001,"I":-0.00002,"J":-0.00002},
{"z":0.9,"A":0.00037,"B":0.00053,"C":0.0007,"D":0.00085,"E":0.001,"F":-0.00001,"G":-0.00002,"H":-0.00003,"I":-0.00003,"J":-0.00004},
{"z":0.92,"A":0.00046,"B":0.00066,"C":0.00088,"D":0.00106,"E":0.00125,"F":-0.00005,"G":-0.00008,"H":-0.00012,"I":-0.00015,"J":-0.00018},
{"z":0.94,"A":0.0005,"B":0.00072,"C":0.00095,"D":0.00116,"E":0.00136,"F":-0.00016,"G":-0.00026,"H":-0.00036,"I":-0.00046,"J":-0.00056},
{"z":0.96,"A":0.00035,"B":0.0005,"C":0.00067,"D":0.00081,"E":0.00095,"F":-0.00017,"G":-0.00029,"H":-0.0004,"I":-0.00051,"J":-0.00062},
{"z":0.98,"A":0.0001,"B":0.00015,"C":0.0002,"D":0.00024,"E":0.00028,"F":-0.00004,"G":-0.00008,"H":-0.0001,"I":-0.00013,"J":-0.00016},
{"z":1,"A":0.00001,"B":0.00002,"C":0.00003,"D":0.00003,"E":0.00004,"F":-0.00001,"G":-0.00002,"H":-0.00003,"I":-0.00003,"J":-0.00004}
],
"f":[
{"z":0,"A":0.00031,"B":0.00046,"C":0.00059,"D":0.00073,"E":0.00086,"F":0,"G":0,"H":0,"I":0,"J":0},
{"z":0.02,"A":0.00053,"B":0.00079,"C":0.00103,"D":0.00126,"E":0.00149,"F":0,"G":0,"H":0,"I":0,"J":0},
{"z":0.04,"A":0.00078,"B":0.00116,"C":0.00151,"D":0.00186,"E":0.0022,"F":0,"G":0,"H":0,"I":0,"J":0},
{"z":0.06,"A":0.00148,"B":0.0022,"C":0.00286,"D":0.00352,"E":0.00416,"F":-0.00042,"G":-0.00065,"H":-0.00086,"I":-0.00107,"J":-0.00128},
{"z":0.08,"A":0.00238,"B":0.00354,"C":0.00459,"D":0.00564,"E":0.00666,"F":-0.00159,"G":-0.00246,"H":-0.00325,"I":-0.00405,"J":-0.00485},
{"z":0.1,"A":0.00274,"B":0.00408,"C":0.00529,"D":0.00651,"E":0.00768,"F":-0.00188,"G":-0.0029,"H":-0.00384,"I":-0.00478,"J":-0.00572},
{"z":0.12,"A":0.0028,"B":0.00416,"C":0.0054,"D":0.00664,"E":0.00784,"F":-0.00192,"G":-0.00296,"H":-0.00392,"I":-0.00488,"J":-0.00584},
{"z":0.14,"A":0.00272,"B":0.00404,"C":0.00524,"D":0.00644,"E":0.0076,"F":-0.00192,"G":-0.00296,"H":-0.00392,"I":-0.00488,"J":-0.00584},
{"z":0.16,"A":0.00244,"B":0.00362,"C":0.0047,"D":0.00578,"E":0.00682,"F":-0.00169,"G":-0.0026,"H":-0.00345,"I":-0.00429,"J":-0.00514},
{"z":0.18,"A":0.00146,"B":0.00216,"C":0.00281,"D":0.00345,"E":0.00408,"F":-0.00058,"G":-0.00089,"H":-0.00118,"I":-0.00146,"J":-0.00175},
{"z":0.2,"A":0.00076,"B":0.00112,"C":0.00146,"D":0.00179,"E":0.00212,"F":-0.00008,"G":-0.00012,"H":-0.00016,"I":-0.0002,"J":-0.00023},
{"z":0.22,"A":0.00042,"B":0.00062,"C":0.00081,"D":0.001,"E":0.00118,"F":0,"G":0,"H":0,"I":0,"J":0},
{"z":0.24,"A":0.00025,"B":0.00037,"C":0.00049,"D":0.0006,"E":0.00071,"F":0,"G":0,"H":0,"I":0,"J":0},
{"z":0.26,"A":0.00011,"B":0.00017,"C":0.00022,"D":0.00027,"E":0.00031,"F":0,"G":0,"H":0,"I":0,"J":0},
{"z":0.28,"A":0.00015,"B":0.00022,"C":0.0003,"D":0.00037,"E":0.00044,"F":0,"G":0,"H":0,"I":0,"J":0},
{"z":0.3,"A":0.0004,"B":0.00059,"C":0.00079,"D":0.00098,"E":0.00116,"F":-0.00019,"G":-0.00028,"H":-0.00037,"I":-0.00046,"J":-0.00055},
{"z":0.32,"A":0.00136,"B":0.00202,"C":0.00271,"D":0.00336,"E":0.004,"F":-0.00104,"G":-0.00157,"H":-0.00207,"I":-0.00259,"J":-0.00308},
{"z":0.34,"A":0.00218,"B":0.00324,"C":0.00434,"D":0.00537,"E":0.00641,"F":-0.00197,"G":-0.00297,"H":-0.00392,"I":-0.0049,"J":-0.00582},
{"z":0.36,"A":0.00246,"B":0.00364,"C":0.00488,"D":0.00604,"E":0.00721,"F":-0.00225,"G":-0.00339,"H":-0.00447,"I":-0.00559,"J":-0.00664},
{"z":0.38,"A":0.00248,"B":0.00368,"C":0.00493,"D":0.0061,"E":0.00728,"F":-0.00232,"G":-0.00349,"H":-0.00461,"I":-0.00576,"J":-0.00685},
{"z":0.4,"A":0.00231,"B":0.00342,"C":0.00458,"D":0.00567,"E":0.00677,"F":-0.00209,"G":-0.00314,"H":-0.00415,"I":-0.00518,"J":-0.00617},
{"z":0.42,"A":0.00169,"B":0.0025,"C":0.00335,"D":0.00415,"E":0.00495,"F":-0.00139,"G":-0.00209,"H":-0.00277,"I":-0.00346,"J":-0.00411},
{"z":0.44,"A":0.00092,"B":0.00136,"C":0.00182,"D":0.00226,"E":0.00269,"F":-0.00039,"G":-0.00059,"H":-0.00078,"I":-0.00098,"J":-0.00116},
{"z":0.46,"A":0.00047,"B":0.0007,"C":0.00094,"D":0.00116,"E":0.00138,"F":-0.00005,"G":-0.00007,"H":-0.00009,"I":-0.00012,"J":-0.00014},
{"z":0.48,"A":0.0003,"B":0.00044,"C":0.00059,"D":0.00073,"E":0.00087,"F":0,"G":0,"H":0,"I":0,"J":0},
{"z":0.5,"A":0.00015,"B":0.00022,"C":0.0003,"D":0.00037,"E":0.00044,"F":0,"G":0,"H":0,"I":0,"J":0},
{"z":0.52,"A":0.00007,"B":0.00011,"C":0.00015,"D":0.00018,"E":0.00022,"F":0,"G":0,"H":0,"I":0,"J":0},
{"z":0.54,"A":0.00019,"B":0.00028,"C":0.00036,"D":0.00045,"E":0.00054,"F":-0.00005,"G":-0.00007,"H":-0.00009,"I":-0.00012,"J":-0.00014},
{"z":0.56,"A":0.0007,"B":0.00103,"C":0.00137,"D":0.0017,"E":0.00204,"F":-0.00048,"G":-0.00072,"H":-0.00094,"I":-0.00118,"J":-0.00141},
{"z":0.58,"A":0.00172,"B":0.00255,"C":0.00337,"D":0.0042,"E":0.00503,"F":-0.00156,"G":-0.00234,"H":-0.00307,"I":-0.00383,"J":-0.00458},
{"z":0.6,"A":0.00223,"B":0.0033,"C":0.00438,"D":0.00545,"E":0.00653,"F":-0.00223,"G":-0.00335,"H":-0.00439,"I":-0.00548,"J":-0.00656},
{"z":0.62,"A":0.00232,"B":0.00344,"C":0.00456,"D":0.00568,"E":0.0068,"F":-0.0024,"G":-0.0036,"H":-0.00472,"I":-0.00589,"J":-0.00705},
{"z":0.64,"A":0.00225,"B":0.00334,"C":0.00442,"D":0.00551,"E":0.0066,"F":-0.00233,"G":-0.00349,"H":-0.00458,"I":-0.00571,"J":-0.00684},
{"z":0.66,"A":0.00197,"B":0.00292,"C":0.00388,"D":0.00483,"E":0.00578,"F":-0.00187,"G":-0.00281,"H":-0.00368,"I":-0.00459,"J":-0.0055},
{"z":0.68,"A":0.00116,"B":0.00172,"C":0.00228,"D":0.00284,"E":0.0034,"F":-0.00096,"G":-0.00144,"H":-0.00189,"I":-0.00236,"J":-0.00282},
{"z":0.7,"A":0.00063,"B":0.00093,"C":0.00123,"D":0.00153,"E":0.00184,"F":-0.00014,"G":-0.00022,"H":-0.00028,"I":-0.00035,"J":-0.00042},
{"z":0.72,"A":0.00035,"B":0.00052,"C":0.00068,"D":0.00085,"E":0.00102,"F":0,"G":0,"H":0,"I":0,"J":0},
{"z":0.74,"A":0.00021,"B":0.00031,"C":0.00041,"D":0.00051,"E":0.00061,"F":0,"G":0,"H":0,"I":0,"J":0},
{"z":0.76,"A":0.00009,"B":0.00014,"C":0.00018,"D":0.00023,"E":0.00027,"F":0,"G":0,"H":0,"I":0,"J":0},
{"z":0.78,"A":0.00012,"B":0.00017,"C":0.00023,"D":0.00028,"E":0.00034,"F":0,"G":0,"H":0,"I":0,"J":0},
{"z":0.8,"A":0.00037,"B":0.00055,"C":0.00073,"D":0.00091,"E":0.00109,"F":-0.00019,"G":-0.00029,"H":-0.00038,"I":-0.00047,"J":-0.00056},
{"z":0.82,"A":0.00128,"B":0.00189,"C":0.00251,"D":0.00312,"E":0.00374,"F":-0.00108,"G":-0.00162,"H":-0.00212,"I":-0.00265,"J":-0.00317},
{"z":0.84,"A":0.00204,"B":0.00303,"C":0.00401,"D":0.005,"E":0.00598,"F":-0.00204,"G":-0.00306,"H":-0.00401,"I":-0.00501,"J":-0.00599},
{"z":0.86,"A":0.0023,"B":0.00341,"C":0.00451,"D":0.00562,"E":0.00673,"F":-0.00233,"G":-0.00349,"H":-0.00458,"I":-0.00571,"J":-0.00684},
{"z":0.88,"A":0.00232,"B":0.00344,"C":0.00456,"D":0.00568,"E":0.0068,"F":-0.0024,"G":-0.0036,"H":-0.00472,"I":-0.00589,"J":-0.00705},
{"z":0.9,"A":0.00216,"B":0.0032,"C":0.00424,"D":0.00528,"E":0.00632,"F":-0.00216,"G":-0.00324,"H":-0.00425,"I":-0.0053,"J":-0.00635},
{"z":0.92,"A":0.00158,"B":0.00234,"C":0.0031,"D":0.00386,"E":0.00462,"F":-0.00144,"G":-0.00216,"H":-0.00283,"I":-0.00353,"J":-0.00423},
{"z":0.94,"A":0.00086,"B":0.00127,"C":0.00169,"D":0.0021,"E":0.00252,"F":-0.00041,"G":-0.00061,"H":-0.0008,"I":-0.001,"J":-0.0012},
{"z":0.96,"A":0.00044,"B":0.00065,"C":0.00087,"D":0.00108,"E":0.00129,"F":-0.00005,"G":-0.00007,"H":-0.00009,"I":-0.00012,"J":-0.00014},
{"z":0.98,"A":0.00028,"B":0.00041,"C":0.00055,"D":0.00068,"E":0.00082,"F":0,"G":0,"H":0,"I":0,"J":0},
{"z":1,"A":0.00014,"B":0.00021,"C":0.00027,"D":0.00034,"E":0.00041,"F":0,"G":0,"H":0,"I":0,"J":0}
]
},
"resolve":{"scale":{"color":"independent","shape":"independent","stroke":"independent"},"legend":{"color":"independent","shape":"independent"}},
"vconcat":[
{"resolve":{"scale":{"color":"independent","shape":"independent","stroke":"independent"},"legend":{"color":"independent","shape":"independent"}},"hconcat":[
{"resolve":{"scale":{"color":"independent","shape":"independent","stroke":"independent"},"legend":{"color":"independent","shape":"independent"}},"title":{"text":"x","anchor":"start","font":"Liberation Serif","fontStyle":"italic","fontSize":27,"offset":0,"dx":396,"dy":-20},"vconcat":[
{"resolve":{"scale":{"color":"independent","shape":"independent","stroke":"independent"},"legend":{"color":"independent","shape":"independent"}},"title":{"text":"v","anchor":"start","font":"Liberation Serif","fontStyle":"italic","fontSize":46,"offset":0,"dx":365,"dy":-50},"vconcat":[
{"width":527,"height":414,"title":{"text":"(a) A33-A34","font":"Lato","fontSize":37,"offset":22,"dx":-49},
"data":{"name":"a"},
"transform":[{"fold":["A","B","C","D","E","F","G","H","I","J"],"as":["k","v"]},{"lookup":"k","from":{"data":{"name":"names"},"key":"k","fields":["n"]}}],
"layer":[
{"data":{"values":[{}]},"mark":{"type":"rule","color":"#bdbdbd","strokeWidth":1.2},"encoding":{"y":{"datum":0}}},
{"mark":{"type":"line","strokeWidth":1,"opacity":0.55},"encoding":{"x":{"field":"z","type":"quantitative","scale":{"domain":[0,1]}},"y":{"field":"v","type":"quantitative","scale":{"domain":[-0.008,0.012]}},"stroke":{"field":"k","type":"nominal","legend":null,"scale":{"domain":["A","B","C","D","E","F","G","H","I","J"],"range":["#3b3b3b","#1448d6","#b07ee0","#17a2c8","#7e7a1f","#ef3a3a","#0e8f55","#c98a10","#6d4540","#ff6a14"]}}}},
{"mark":{"type":"point","filled":true,"opacity":1,"size":75,"strokeWidth":0},"encoding":{
"x":{"field":"z","type":"quantitative","scale":{"domain":[0,1]},"axis":{"values":[0,0.2,0.4,0.6,0.8,1],"format":".1f","title":"z/H"}},
"y":{"field":"v","type":"quantitative","scale":{"domain":[-0.008,0.012]},"axis":{"values":[-0.008,-0.004,0,0.004,0.008,0.012],"format":".3f","title":"Transverse flow rate (m²/s)"}},
"color":{"field":"n","type":"nominal","title":null,"scale":{"domain":["50-G⁺","75-G⁺","100-G⁺","125-G⁺","150-G⁺","50-G⁻","75-G⁻","100-G⁻","125-G⁻","150-G⁻"],"range":["#3b3b3b","#1448d6","#b07ee0","#17a2c8","#7e7a1f","#ef3a3a","#0e8f55","#c98a10","#6d4540","#ff6a14"]}},
"shape":{"field":"n","type":"nominal","title":null,"scale":{"domain":["50-G⁺","75-G⁺","100-G⁺","125-G⁺","150-G⁺","50-G⁻","75-G⁻","100-G⁻","125-G⁻","150-G⁻"],"range":["square","triangle-up","diamond","triangle-right","M0,-1L0.235,-0.324L0.951,-0.309L0.38,0.124L0.588,0.809L0,0.4L-0.588,0.809L-0.38,0.124L-0.951,-0.309L-0.235,-0.324Z","circle","triangle-down","triangle-left","circle","M0,-1L0.951,-0.309L0.588,0.809L-0.588,0.809L-0.951,-0.309Z"]}}}}
]}]}]},
{"resolve":{"scale":{"color":"independent","shape":"independent","stroke":"independent"},"legend":{"color":"independent","shape":"independent"}},"title":{"text":"y","anchor":"start","font":"Liberation Serif","fontStyle":"italic","fontSize":27,"offset":0,"dx":396,"dy":-20},"vconcat":[
{"resolve":{"scale":{"color":"independent","shape":"independent","stroke":"independent"},"legend":{"color":"independent","shape":"independent"}},"title":{"text":"v","anchor":"start","font":"Liberation Serif","fontStyle":"italic","fontSize":46,"offset":0,"dx":365,"dy":-50},"vconcat":[
{"width":527,"height":414,"title":{"text":"(a) A33-A34","font":"Lato","fontSize":37,"offset":22,"dx":-40},
"data":{"name":"b"},
"transform":[{"fold":["A","B","C","D","E","F","G","H","I","J"],"as":["k","v"]},{"lookup":"k","from":{"data":{"name":"names"},"key":"k","fields":["n"]}}],
"layer":[
{"data":{"values":[{}]},"mark":{"type":"rule","color":"#bdbdbd","strokeWidth":1.2},"encoding":{"y":{"datum":0}}},
{"mark":{"type":"line","strokeWidth":1,"opacity":0.55},"encoding":{"x":{"field":"z","type":"quantitative","scale":{"domain":[0,1]}},"y":{"field":"v","type":"quantitative","scale":{"domain":[-0.0045,0.0065]}},"stroke":{"field":"k","type":"nominal","legend":null,"scale":{"domain":["A","B","C","D","E","F","G","H","I","J"],"range":["#3b3b3b","#1448d6","#b07ee0","#17a2c8","#7e7a1f","#ef3a3a","#0e8f55","#c98a10","#6d4540","#ff6a14"]}}}},
{"mark":{"type":"point","filled":true,"opacity":1,"size":75,"strokeWidth":0},"encoding":{
"x":{"field":"z","type":"quantitative","scale":{"domain":[0,1]},"axis":{"values":[0,0.2,0.4,0.6,0.8,1],"format":".1f","title":"z/H"}},
"y":{"field":"v","type":"quantitative","scale":{"domain":[-0.0045,0.0065]},"axis":{"values":[-0.0036,-0.0018,0,0.0018,0.0036,0.0054],"format":".4f","title":"Transverse flow rate (m²/s)"}},
"color":{"field":"n","type":"nominal","title":null,"scale":{"domain":["50-G⁺","75-G⁺","100-G⁺","125-G⁺","150-G⁺","50-G⁻","75-G⁻","100-G⁻","125-G⁻","150-G⁻"],"range":["#3b3b3b","#1448d6","#b07ee0","#17a2c8","#7e7a1f","#ef3a3a","#0e8f55","#c98a10","#6d4540","#ff6a14"]}},
"shape":{"field":"n","type":"nominal","title":null,"scale":{"domain":["50-G⁺","75-G⁺","100-G⁺","125-G⁺","150-G⁺","50-G⁻","75-G⁻","100-G⁻","125-G⁻","150-G⁻"],"range":["square","triangle-up","diamond","triangle-right","M0,-1L0.235,-0.324L0.951,-0.309L0.38,0.124L0.588,0.809L0,0.4L-0.588,0.809L-0.38,0.124L-0.951,-0.309L-0.235,-0.324Z","circle","triangle-down","triangle-left","circle","M0,-1L0.951,-0.309L0.588,0.809L-0.588,0.809L-0.951,-0.309Z"]}}}}
]}]}]}
],"spacing":12},
{"resolve":{"scale":{"color":"independent","shape":"independent","stroke":"independent"},"legend":{"color":"independent","shape":"independent"}},"hconcat":[
{"resolve":{"scale":{"color":"independent","shape":"independent","stroke":"independent"},"legend":{"color":"independent","shape":"independent"}},"title":{"text":"x","anchor":"start","font":"Liberation Serif","fontStyle":"italic","fontSize":27,"offset":0,"dx":396,"dy":-20},"vconcat":[
{"resolve":{"scale":{"color":"independent","shape":"independent","stroke":"independent"},"legend":{"color":"independent","shape":"independent"}},"title":{"text":"v","anchor":"start","font":"Liberation Serif","fontStyle":"italic","fontSize":46,"offset":0,"dx":365,"dy":-50},"vconcat":[
{"width":527,"height":414,"title":{"text":"(c) A34-A35","font":"Lato","fontSize":37,"offset":22,"dx":-49},
"data":{"name":"c"},
"transform":[{"fold":["A","B","C","D","E","F","G","H","I","J"],"as":["k","v"]},{"lookup":"k","from":{"data":{"name":"names"},"key":"k","fields":["n"]}}],
"layer":[
{"data":{"values":[{}]},"mark":{"type":"rule","color":"#bdbdbd","strokeWidth":1.2},"encoding":{"y":{"datum":0}}},
{"mark":{"type":"line","strokeWidth":1,"opacity":0.55},"encoding":{"x":{"field":"z","type":"quantitative","scale":{"domain":[0,1]}},"y":{"field":"v","type":"quantitative","scale":{"domain":[-0.008,0.012]}},"stroke":{"field":"k","type":"nominal","legend":null,"scale":{"domain":["A","B","C","D","E","F","G","H","I","J"],"range":["#3b3b3b","#1448d6","#b07ee0","#17a2c8","#7e7a1f","#ef3a3a","#0e8f55","#c98a10","#6d4540","#ff6a14"]}}}},
{"mark":{"type":"point","filled":true,"opacity":1,"size":75,"strokeWidth":0},"encoding":{
"x":{"field":"z","type":"quantitative","scale":{"domain":[0,1]},"axis":{"values":[0,0.2,0.4,0.6,0.8,1],"format":".1f","title":"z/H"}},
"y":{"field":"v","type":"quantitative","scale":{"domain":[-0.008,0.012]},"axis":{"values":[-0.008,-0.004,0,0.004,0.008,0.012],"format":".3f","title":"Transverse flow rate (m²/s)"}},
"color":{"field":"n","type":"nominal","title":null,"scale":{"domain":["50-G⁺","75-G⁺","100-G⁺","125-G⁺","150-G⁺","50-G⁻","75-G⁻","100-G⁻","125-G⁻","150-G⁻"],"range":["#3b3b3b","#1448d6","#b07ee0","#17a2c8","#7e7a1f","#ef3a3a","#0e8f55","#c98a10","#6d4540","#ff6a14"]}},
"shape":{"field":"n","type":"nominal","title":null,"scale":{"domain":["50-G⁺","75-G⁺","100-G⁺","125-G⁺","150-G⁺","50-G⁻","75-G⁻","100-G⁻","125-G⁻","150-G⁻"],"range":["square","triangle-up","diamond","triangle-right","M0,-1L0.235,-0.324L0.951,-0.309L0.38,0.124L0.588,0.809L0,0.4L-0.588,0.809L-0.38,0.124L-0.951,-0.309L-0.235,-0.324Z","circle","triangle-down","triangle-left","circle","M0,-1L0.951,-0.309L0.588,0.809L-0.588,0.809L-0.951,-0.309Z"]}}}}
]}]}]},
{"resolve":{"scale":{"color":"independent","shape":"independent","stroke":"independent"},"legend":{"color":"independent","shape":"independent"}},"title":{"text":"y","anchor":"start","font":"Liberation Serif","fontStyle":"italic","fontSize":27,"offset":0,"dx":396,"dy":-20},"vconcat":[
{"resolve":{"scale":{"color":"independent","shape":"independent","stroke":"independent"},"legend":{"color":"independent","shape":"independent"}},"title":{"text":"v","anchor":"start","font":"Liberation Serif","fontStyle":"italic","fontSize":46,"offset":0,"dx":365,"dy":-50},"vconcat":[
{"width":527,"height":414,"title":{"text":"(d) A34-A35","font":"Lato","fontSize":37,"offset":22,"dx":-40},
"data":{"name":"d"},
"transform":[{"fold":["A","B","C","D","E","F","G","H","I","J"],"as":["k","v"]},{"lookup":"k","from":{"data":{"name":"names"},"key":"k","fields":["n"]}}],
"layer":[
{"data":{"values":[{}]},"mark":{"type":"rule","color":"#bdbdbd","strokeWidth":1.2},"encoding":{"y":{"datum":0}}},
{"mark":{"type":"line","strokeWidth":1,"opacity":0.55},"encoding":{"x":{"field":"z","type":"quantitative","scale":{"domain":[0,1]}},"y":{"field":"v","type":"quantitative","scale":{"domain":[-0.0045,0.0065]}},"stroke":{"field":"k","type":"nominal","legend":null,"scale":{"domain":["A","B","C","D","E","F","G","H","I","J"],"range":["#3b3b3b","#1448d6","#b07ee0","#17a2c8","#7e7a1f","#ef3a3a","#0e8f55","#c98a10","#6d4540","#ff6a14"]}}}},
{"mark":{"type":"point","filled":true,"opacity":1,"size":75,"strokeWidth":0},"encoding":{
"x":{"field":"z","type":"quantitative","scale":{"domain":[0,1]},"axis":{"values":[0,0.2,0.4,0.6,0.8,1],"format":".1f","title":"z/H"}},
"y":{"field":"v","type":"quantitative","scale":{"domain":[-0.0045,0.0065]},"axis":{"values":[-0.0036,-0.0018,0,0.0018,0.0036,0.0054],"format":".4f","title":"Transverse flow rate (m²/s)"}},
"color":{"field":"n","type":"nominal","title":null,"scale":{"domain":["50-G⁺","75-G⁺","100-G⁺","125-G⁺","150-G⁺","50-G⁻","75-G⁻","100-G⁻","125-G⁻","150-G⁻"],"range":["#3b3b3b","#1448d6","#b07ee0","#17a2c8","#7e7a1f","#ef3a3a","#0e8f55","#c98a10","#6d4540","#ff6a14"]}},
"shape":{"field":"n","type":"nominal","title":null,"scale":{"domain":["50-G⁺","75-G⁺","100-G⁺","125-G⁺","150-G⁺","50-G⁻","75-G⁻","100-G⁻","125-G⁻","150-G⁻"],"range":["square","triangle-up","diamond","triangle-right","M0,-1L0.235,-0.324L0.951,-0.309L0.38,0.124L0.588,0.809L0,0.4L-0.588,0.809L-0.38,0.124L-0.951,-0.309L-0.235,-0.324Z","circle","triangle-down","triangle-left","circle","M0,-1L0.951,-0.309L0.588,0.809L-0.588,0.809L-0.951,-0.309Z"]}}}}
]}]}]}
],"spacing":12},
{"resolve":{"scale":{"color":"independent","shape":"independent","stroke":"independent"},"legend":{"color":"independent","shape":"independent"}},"hconcat":[
{"resolve":{"scale":{"color":"independent","shape":"independent","stroke":"independent"},"legend":{"color":"independent","shape":"independent"}},"title":{"text":"x","anchor":"start","font":"Liberation Serif","fontStyle":"italic","fontSize":27,"offset":0,"dx":396,"dy":-20},"vconcat":[
{"resolve":{"scale":{"color":"independent","shape":"independent","stroke":"independent"},"legend":{"color":"independent","shape":"independent"}},"title":{"text":"v","anchor":"start","font":"Liberation Serif","fontStyle":"italic","fontSize":46,"offset":0,"dx":365,"dy":-50},"vconcat":[
{"width":527,"height":414,"title":{"text":"(e) A34-A43","font":"Lato","fontSize":37,"offset":22,"dx":-49},
"data":{"name":"e"},
"transform":[{"fold":["A","B","C","D","E","F","G","H","I","J"],"as":["k","v"]},{"lookup":"k","from":{"data":{"name":"names"},"key":"k","fields":["n"]}}],
"layer":[
{"data":{"values":[{}]},"mark":{"type":"rule","color":"#bdbdbd","strokeWidth":1.2},"encoding":{"y":{"datum":0}}},
{"mark":{"type":"line","strokeWidth":1,"opacity":0.55},"encoding":{"x":{"field":"z","type":"quantitative","scale":{"domain":[0,1]}},"y":{"field":"v","type":"quantitative","scale":{"domain":[-0.002,0.003]}},"stroke":{"field":"k","type":"nominal","legend":null,"scale":{"domain":["A","B","C","D","E","F","G","H","I","J"],"range":["#3b3b3b","#1448d6","#b07ee0","#17a2c8","#7e7a1f","#ef3a3a","#0e8f55","#c98a10","#6d4540","#ff6a14"]}}}},
{"mark":{"type":"point","filled":true,"opacity":1,"size":75,"strokeWidth":0},"encoding":{
"x":{"field":"z","type":"quantitative","scale":{"domain":[0,1]},"axis":{"values":[0,0.2,0.4,0.6,0.8,1],"format":".1f","title":"z/H"}},
"y":{"field":"v","type":"quantitative","scale":{"domain":[-0.002,0.003]},"axis":{"values":[-0.002,-0.001,0,0.001,0.002,0.003],"format":".3f","title":"Transverse flow rate (m²/s)"}},
"color":{"field":"n","type":"nominal","title":null,"scale":{"domain":["50-G⁺","75-G⁺","100-G⁺","125-G⁺","150-G⁺","50-G⁻","75-G⁻","100-G⁻","125-G⁻","150-G⁻"],"range":["#3b3b3b","#1448d6","#b07ee0","#17a2c8","#7e7a1f","#ef3a3a","#0e8f55","#c98a10","#6d4540","#ff6a14"]}},
"shape":{"field":"n","type":"nominal","title":null,"scale":{"domain":["50-G⁺","75-G⁺","100-G⁺","125-G⁺","150-G⁺","50-G⁻","75-G⁻","100-G⁻","125-G⁻","150-G⁻"],"range":["square","triangle-up","diamond","triangle-right","M0,-1L0.235,-0.324L0.951,-0.309L0.38,0.124L0.588,0.809L0,0.4L-0.588,0.809L-0.38,0.124L-0.951,-0.309L-0.235,-0.324Z","circle","triangle-down","triangle-left","circle","M0,-1L0.951,-0.309L0.588,0.809L-0.588,0.809L-0.951,-0.309Z"]}}}}
]}]}]},
{"resolve":{"scale":{"color":"independent","shape":"independent","stroke":"independent"},"legend":{"color":"independent","shape":"independent"}},"title":{"text":"y","anchor":"start","font":"Liberation Serif","fontStyle":"italic","fontSize":27,"offset":0,"dx":396,"dy":-20},"vconcat":[
{"resolve":{"scale":{"color":"independent","shape":"independent","stroke":"independent"},"legend":{"color":"independent","shape":"independent"}},"title":{"text":"v","anchor":"start","font":"Liberation Serif","fontStyle":"italic","fontSize":46,"offset":0,"dx":365,"dy":-50},"vconcat":[
{"width":527,"height":414,"title":{"text":"(f) A34-A43","font":"Lato","fontSize":37,"offset":22,"dx":-40},
"data":{"name":"f"},
"transform":[{"fold":["A","B","C","D","E","F","G","H","I","J"],"as":["k","v"]},{"lookup":"k","from":{"data":{"name":"names"},"key":"k","fields":["n"]}}],
"layer":[
{"data":{"values":[{}]},"mark":{"type":"rule","color":"#bdbdbd","strokeWidth":1.2},"encoding":{"y":{"datum":0}}},
{"mark":{"type":"line","strokeWidth":1,"opacity":0.55},"encoding":{"x":{"field":"z","type":"quantitative","scale":{"domain":[0,1]}},"y":{"field":"v","type":"quantitative","scale":{"domain":[-0.008,0.012]}},"stroke":{"field":"k","type":"nominal","legend":null,"scale":{"domain":["A","B","C","D","E","F","G","H","I","J"],"range":["#3b3b3b","#1448d6","#b07ee0","#17a2c8","#7e7a1f","#ef3a3a","#0e8f55","#c98a10","#6d4540","#ff6a14"]}}}},
{"mark":{"type":"point","filled":true,"opacity":1,"size":75,"strokeWidth":0},"encoding":{
"x":{"field":"z","type":"quantitative","scale":{"domain":[0,1]},"axis":{"values":[0,0.2,0.4,0.6,0.8,1],"format":".1f","title":"z/H"}},
"y":{"field":"v","type":"quantitative","scale":{"domain":[-0.008,0.012]},"axis":{"values":[-0.008,-0.004,0,0.004,0.008,0.012],"format":".3f","title":"Transverse flow rate (m²/s)"}},
"color":{"field":"n","type":"nominal","title":null,"scale":{"domain":["50-G⁺","75-G⁺","100-G⁺","125-G⁺","150-G⁺","50-G⁻","75-G⁻","100-G⁻","125-G⁻","150-G⁻"],"range":["#3b3b3b","#1448d6","#b07ee0","#17a2c8","#7e7a1f","#ef3a3a","#0e8f55","#c98a10","#6d4540","#ff6a14"]}},
"shape":{"field":"n","type":"nominal","title":null,"scale":{"domain":["50-G⁺","75-G⁺","100-G⁺","125-G⁺","150-G⁺","50-G⁻","75-G⁻","100-G⁻","125-G⁻","150-G⁻"],"range":["square","triangle-up","diamond","triangle-right","M0,-1L0.235,-0.324L0.951,-0.309L0.38,0.124L0.588,0.809L0,0.4L-0.588,0.809L-0.38,0.124L-0.951,-0.309L-0.235,-0.324Z","circle","triangle-down","triangle-left","circle","M0,-1L0.951,-0.309L0.588,0.809L-0.588,0.809L-0.951,-0.309Z"]}}}}
]}]}]}
],"spacing":12}
],
"spacing":19
}
